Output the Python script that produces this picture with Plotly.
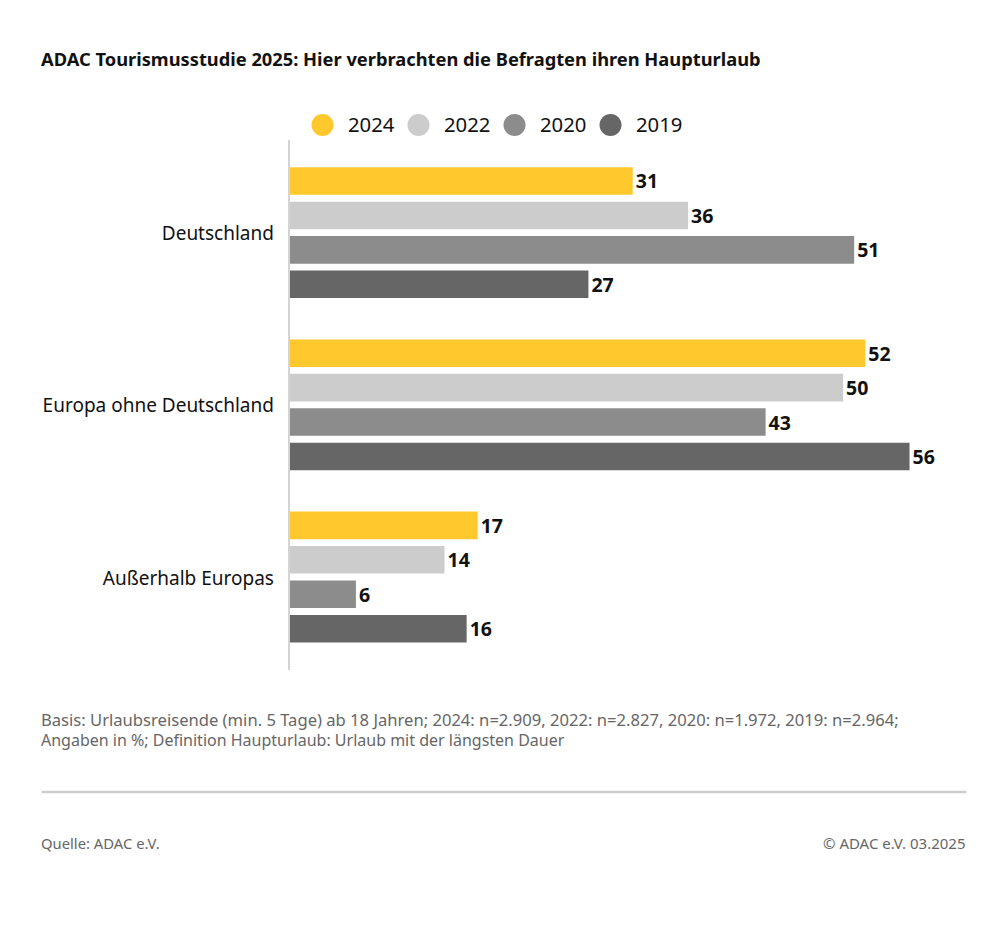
import plotly.graph_objects as go

W, H = 1008, 938

categories = ["Deutschland", "Europa ohne Deutschland", "Außerhalb Europas"]
years = ["2024", "2022", "2020", "2019"]
values_2024 = [31, 52, 17]
values_2022 = [36, 50, 14]
values_2020 = [51, 43, 6]
values_2019 = [27, 56, 16]
colors = ["#FFC92E", "#CCCCCC", "#8C8C8C", "#666666"]

FONT = "Noto Sans"
all_values = [values_2024, values_2022, values_2020, values_2019]


# helpers, layout is laid out in page pixels
def px(x):
    return x / W


def py(y):
    return 1 - y / H


fig = go.Figure()
for year, vals, col in zip(years, all_values, colors):
    fig.add_trace(go.Bar(
        name=year, y=categories, x=vals, orientation="h", marker_color=col,
        marker_line_width=0, text=vals, textposition="outside", cliponaxis=False,
        textfont=dict(family=FONT, size=19.5, color="#111111", weight="bold"),
        showlegend=False,
    ))

fig.update_layout(
    width=W, height=H, margin=dict(l=0, r=0, t=0, b=0),
    paper_bgcolor="white", plot_bgcolor="white",
    barmode="group", bargap=0.2, bargroupgap=0.2,
    font=dict(family=FONT, size=19, color="#111111"),
    uniformtext=dict(mode=False),
)
fig.update_xaxes(domain=[px(289.5), px(966)], range=[0, 61.1], visible=False)
fig.update_yaxes(
    domain=[py(670), py(140)], range=[2.54, -0.538], showline=True,
    linecolor="#D4D4D4", linewidth=1.5, ticks="", showgrid=False, ticklabelstandoff=10,
    ticklabelshift=-1, tickfont=dict(family=FONT, size=19, color="#111111"), automargin=False,
)

# legend with large round dots
legend_x = [322.5, 418.5, 514.5, 610.5]
for year, col, lx in zip(years, colors, legend_x):
    fig.add_shape(type="circle", xref="paper", yref="paper", x0=px(lx - 11), x1=px(lx + 11),
                  y0=py(136), y1=py(114), fillcolor=col, line_width=0)
    fig.add_annotation(text=year, xref="paper", yref="paper", x=px(lx + 23.5), y=py(124),
                       xanchor="left", yanchor="middle", showarrow=False,
                       font=dict(family=FONT, size=20.3, color="#111111"))


def add_text(text, x, y, size, color, anchor="left", bold=False):
    fig.add_annotation(text=text, xref="paper", yref="paper", x=px(x), y=py(y), xanchor=anchor,
                       yanchor="middle", align=anchor, showarrow=False,
                       font=dict(family=FONT, size=size, color=color, weight="bold" if bold else "normal"))


add_text("ADAC Tourismusstudie 2025: Hier verbrachten die Befragten ihren Haupturlaub", 38.5, 58, 18.3, "#111111", bold=True)
# both note lines in one text, size 15.4 only sets the line spacing
add_text("<span style='font-size:16.6px'>Basis: Urlaubsreisende (min. 5 Tage) ab 18 Jahren; 2024: n=2.909, 2022: n=2.827, 2020: n=1.972, 2019: n=2.964;</span><br>"
         "<span style='font-size:16px'>Angaben in %; Definition Haupturlaub: Urlaub mit der längsten Dauer</span>",
         39, 729, 15.4, "#666666")
add_text("Quelle: ADAC e.V.", 38.5, 843, 14.8, "#666666")
add_text("© ADAC e.V. 03.2025", 968, 843, 15, "#666666", anchor="right")

fig.add_shape(type="line", xref="paper", yref="paper", x0=px(41.5), x1=px(966), y0=py(792), y1=py(792),
              line=dict(color="#CCCCCC", width=2.5))

# page margin off so the figure sits at the window corner
fig.write_html("out.html", post_script="document.body.style.margin = 0;", config={"displayModeBar": False})
